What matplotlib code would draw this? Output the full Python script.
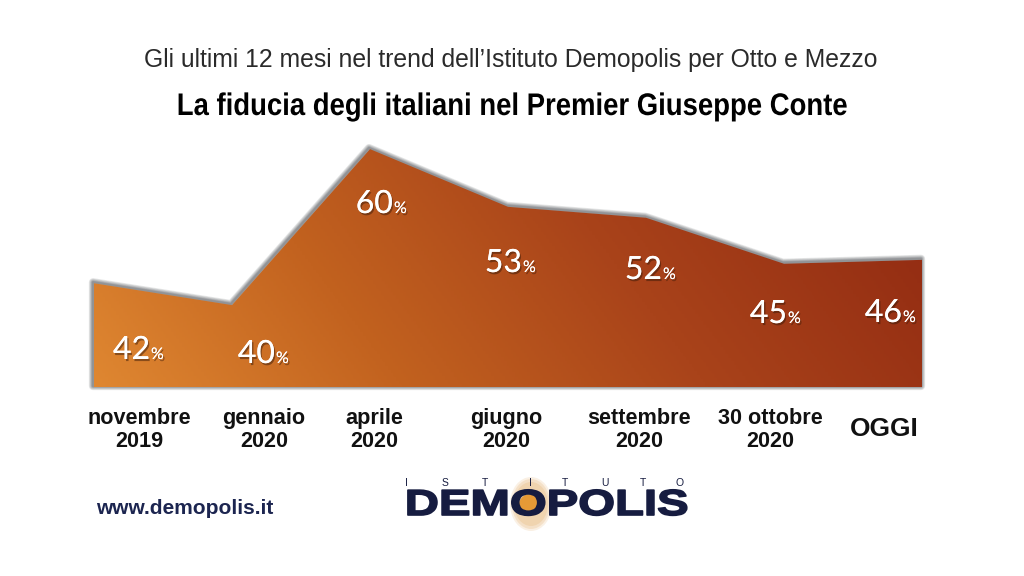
import numpy as np
import matplotlib
matplotlib.use('Agg')
import matplotlib.pyplot as plt
import matplotlib.patheffects as pe
from matplotlib.colors import LinearSegmentedColormap
from matplotlib.patches import Polygon, Ellipse, Circle
from matplotlib.transforms import Affine2D

W, H = 1024, 576

months = ['novembre\n2019', 'gennaio\n2020', 'aprile\n2020', 'giugno\n2020',
          'settembre\n2020', '30 ottobre\n2020', 'OGGI']
# percentages printed on the chart
values = [42, 40, 60, 53, 52, 45, 46]
# height of the area as it is drawn, the original is not quite to scale
drawn_levels = [42.8, 40.0, 60.0, 52.6, 51.2, 45.3, 45.8]

fig = plt.figure(figsize=(W / 100, H / 100), dpi=100, facecolor='white')


def fx(x):
    return x / W


def fy(y):
    return 1 - y / H


class HScale(pe.AbstractPathEffect):
    # squeeze or stretch a text sideways around a pixel column
    def __init__(self, cx, sx, stroke=0):
        super().__init__()
        self.cx, self.sx, self.stroke = cx, sx, stroke

    def draw_path(self, renderer, gc, tpath, affine, rgbFace=None):
        gc0 = renderer.new_gc()
        gc0.copy_properties(gc)
        if self.stroke:
            gc0.set_linewidth(self.stroke)
            gc0.set_foreground(rgbFace)
        squeeze = Affine2D().translate(-self.cx, 0).scale(self.sx, 1).translate(self.cx, 0)
        renderer.draw_path(gc0, tpath, affine + squeeze, rgbFace)
        gc0.restore()


# axes spans the area exactly: px 94-922, baseline at 387
y_min, y_max = 29.5, 65.0
px_per_unit = 7.8
ax_top = 387 - (y_max - y_min) * px_per_unit
ax = fig.add_axes([fx(94), fy(387), (922 - 94) / W, (387 - ax_top) / H])
ax.set_xlim(0, len(values) - 1)
ax.set_ylim(y_min, y_max)
ax.axis('off')

xs = np.arange(len(values))
verts = np.vstack([[xs[0], y_min], np.column_stack([xs, drawn_levels]), [xs[-1], y_min]])

# soft shadow, stacked strokes pushed up and to the left
shifted = ax.transData + Affine2D().translate(-1, 1)
for lw in [6, 5, 4, 3, 2.2, 1.5]:
    shadow = Polygon(verts, closed=True, facecolor='none', edgecolor='#1c2226',
                     linewidth=lw, alpha=0.1, joinstyle='round', clip_on=False,
                     transform=shifted, zorder=1)
    ax.add_patch(shadow)

# gradient fill
cmap = LinearSegmentedColormap.from_list('area', ['#DF8731', '#C2621F', '#A9431A', '#952E13'])
gx, gy = np.meshgrid(np.linspace(0, 1, 300), np.linspace(0, 1, 200))
grad = np.clip((0.8 * gx + 0.2 * gy) / 0.89, 0, 1)
im = ax.imshow(grad, cmap=cmap, origin='lower', aspect='auto', zorder=2,
               extent=[xs[0], xs[-1], y_min, y_max], vmin=0, vmax=1)
clip = Polygon(verts, closed=True, transform=ax.transData, facecolor='none', edgecolor='none')
ax.add_patch(clip)
im.set_clip_path(clip)

# value labels
label_font = ['Lato', 'DejaVu Sans']
glow = [pe.withSimplePatchShadow(offset=(1, -1.5), shadow_rgbFace='#3a1a08', alpha=0.5),
        pe.Normal()]
num_right = [150, 275, 393, 522, 662, 787, 902]
num_y = [358, 362, 212, 271, 278, 322, 321]
for i, v in enumerate(values):
    fig.text(fx(num_right[i]), fy(num_y[i] + 1), str(v), color='white', fontsize=23,
             family=label_font, ha='right', va='baseline', path_effects=glow, zorder=5)
    fig.text(fx(num_right[i] + 1), fy(num_y[i] + 1), '%', color='white', fontsize=11.5,
             family=label_font, ha='left', va='baseline', path_effects=glow, zorder=5)

# month labels
month_x = [139, 264, 374, 506, 639, 770, 884]
for i, m in enumerate(months):
    if m == 'OGGI':
        fig.text(fx(month_x[i]), fy(429), m, fontsize=18.9, fontweight='bold', color='#111111',
                 family='Liberation Sans', ha='center', va='center')
    else:
        fig.text(fx(month_x[i]), fy(430), m, fontsize=15.6, fontweight='bold', color='#111111',
                 family='Liberation Sans', ha='center', va='center', linespacing=1.15)

# heading
fig.text(fx(511), fy(59.5), 'Gli ultimi 12 mesi nel trend dell\u2019Istituto Demopolis per Otto e Mezzo',
         fontsize=17.8, color='#2a2a2a', family='Liberation Sans', ha='center', va='center')
fig.text(fx(512), fy(107), 'La fiducia degli italiani nel Premier Giuseppe Conte',
         fontsize=22.5, fontweight='bold', color='black', family='Liberation Sans',
         ha='center', va='center', path_effects=[HScale(512, 0.88)])

# footer
navy = '#1c2550'
fig.text(fx(96), fy(508), 'www.demopolis.it', fontsize=15, fontweight='bold', color=navy,
         family='Liberation Sans', ha='left', va='center')

# logo: halo behind the O, then the lettering
logo_ax = fig.add_axes([0, 0, 1, 1], zorder=3)
logo_ax.set_xlim(0, W)
logo_ax.set_ylim(H, 0)
logo_ax.axis('off')
logo_ax.patch.set_alpha(0)
for w, h, a in [(42, 54, 0.22), (38, 50, 0.3), (34, 44, 0.35)]:
    logo_ax.add_patch(Ellipse((531, 504), w, h, color='#E9BE85', alpha=a, lw=0))
logo_ax.add_patch(Circle((530, 505), 11, color='#E69A36', lw=0, zorder=1))
logo_ax.text(546.5, 505.5, 'DEMOPOLIS', fontsize=26, fontweight='bold', color='#161c40',
             family='Liberation Sans', ha='center', va='center', zorder=2,
             path_effects=[HScale(546.5, 1.31, stroke=1.2)])
istituto_x = [406, 445, 485, 530, 565, 605, 643, 680]
for x, ch in zip(istituto_x, 'ISTITUTO'):
    logo_ax.text(x, 483, ch, fontsize=7.5, color='#161c40', family='Liberation Sans',
                 ha='center', va='center', zorder=2)

fig.savefig('out.png', dpi=100, facecolor='white')
